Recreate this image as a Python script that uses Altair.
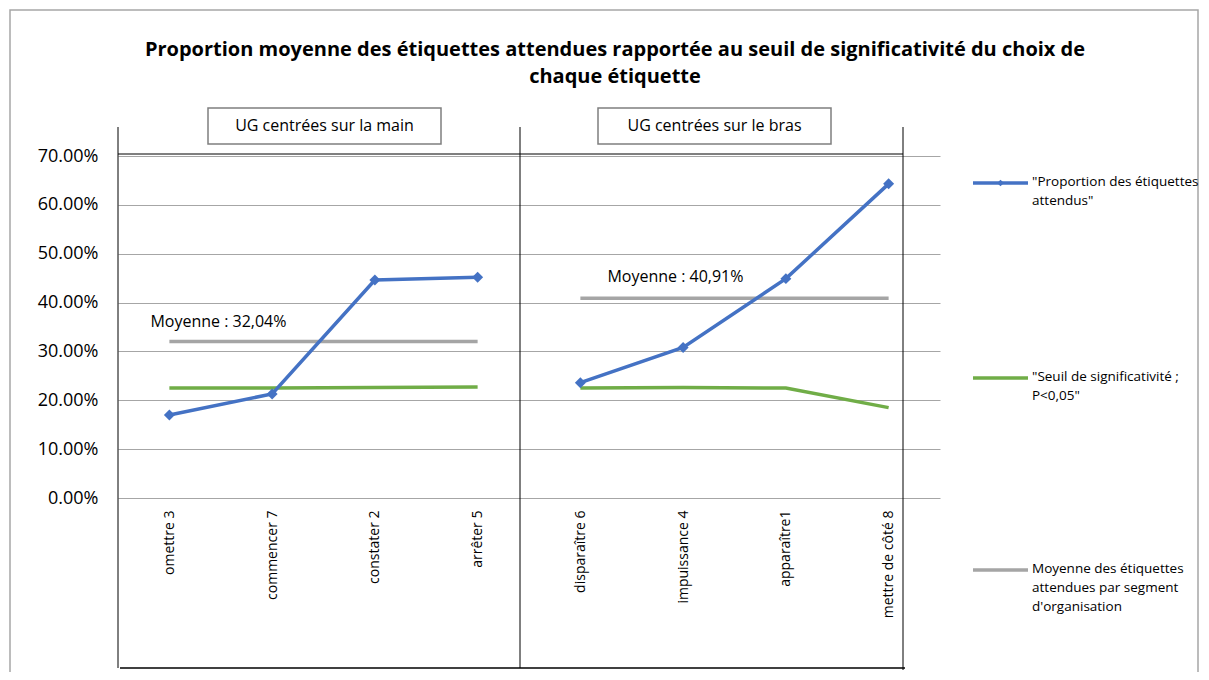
import altair as alt
import pandas as pd

# ---------------- data ----------------
categories = ["omettre 3", "commencer 7", "constater 2", "arrêter 5",
              "disparaître 6", "impuissance 4", "apparaître1", "mettre de côté 8"]
groups = ["main", "main", "main", "main", "bras", "bras", "bras", "bras"]
proportion_pct = [17.0, 21.3, 44.6, 45.2, 23.6, 30.8, 44.9, 64.3]
seuil_pct = [22.5, 22.5, 22.6, 22.7, 22.5, 22.6, 22.5, 18.5]

mean_groups = ["main", "bras"]
mean_pct = [32.04, 40.91]
mean_start = ["omettre 3", "disparaître 6"]
mean_end = ["arrêter 5", "mettre de côté 8"]
mean_labels = ["Moyenne : 32,04%", "Moyenne : 40,91%"]

y_ticks = [0.0, 0.1, 0.2, 0.3, 0.4, 0.5, 0.6, 0.7]
panel_titles = ["UG centrées sur la main", "UG centrées sur le bras"]
title_lines = ["Proportion moyenne des étiquettes attendues rapportée au seuil de significativité du choix de",
               "chaque étiquette"]
legend_labels = [
    ['"Proportion des étiquettes', 'attendus"'],
    ['"Seuil de significativité ;', 'P<0,05"'],
    ["Moyenne des étiquettes", "attendues par segment", "d'organisation"],
]

BLUE = "#4472C4"
GREEN = "#70AD47"
GRAY = "#A5A5A5"
FONT = "Open Sans"

df = pd.DataFrame({
    "cat": categories,
    "group": groups,
    "prop": [v / 100 for v in proportion_pct],
    "seuil": [v / 100 for v in seuil_pct],
})
mdf = pd.DataFrame({
    "group": mean_groups,
    "mean": [v / 100 for v in mean_pct],
    "start": mean_start,
    "end": mean_end,
    "label": mean_labels,
})

W, H = 822, 342
xscale = alt.Scale(type="point", domain=categories, padding=0.5)
yscale = alt.Scale(domain=[0, 0.7], nice=False, zero=True)

x_axis = alt.Axis(title=None, labelAngle=270, labelFontSize=14, labelFont=FONT,
                  labelColor="#000000", labelPadding=12, domain=False, ticks=False,
                  grid=False, labelLimit=300)
y_axis = alt.Axis(title=None, values=y_ticks, format=".2%", labelFontSize=18,
                  labelFont=FONT, labelColor="#000000", labelPadding=20,
                  domain=False, ticks=False, grid=True, gridColor="#A6A6A6",
                  gridWidth=1)

one = pd.DataFrame({"k": [0]})


def hrule(x1, x2, y, color="#000000", w=1.0):
    return alt.Chart(one).mark_rule(color=color, strokeWidth=w).encode(
        x=alt.value(x1), x2=alt.value(x2), y=alt.value(y))


def vrule(x, y1, y2, color="#000000", w=1.0):
    return alt.Chart(one).mark_rule(color=color, strokeWidth=w).encode(
        x=alt.value(x), y=alt.value(y1), y2=alt.value(y2))


def text_at(txt, x, y, size, align="center", baseline="middle", bold=False, lh=None):
    kw = dict(align=align, baseline=baseline, fontSize=size, font=FONT,
              color="#000000", fontWeight="bold" if bold else "normal")
    if lh is not None:
        kw["lineHeight"] = lh
    return alt.Chart(one).mark_text(**kw).encode(
        x=alt.value(x), y=alt.value(y), text=alt.value(txt))


def box(x1, x2, y1, y2, stroke="#7F7F7F", w=1.5, fill="#FFFFFF"):
    return alt.Chart(one).mark_rect(fill=fill, stroke=stroke, strokeWidth=w).encode(
        x=alt.value(x1), x2=alt.value(x2), y=alt.value(y1), y2=alt.value(y2))


# ---------------- decorations ----------------
border = box(-108, 1080, -146, 560, stroke="#A6A6A6", w=1.5, fill="transparent")
title = text_at(title_lines, 497, -106, 20, bold=True, lh=27)

panel1 = box(90, 323, -48, -12)
panel1_t = text_at(panel_titles[0], 206.5, -30, 16)
panel2 = box(480, 713, -48, -12)
panel2_t = text_at(panel_titles[1], 596.5, -30, 16)

v_left = vrule(0, -29, 512)
v_mid = vrule(402, -29, 512)
v_right = vrule(785, -29, 514)
h_top = hrule(0, 785, -2)
h_bot = hrule(2, 787, 512, w=1.5)

# ---------------- data layers ----------------
base = alt.Chart(df).encode(
    x=alt.X("cat:N", scale=xscale, axis=x_axis, sort=categories),
)

green = base.mark_line(color=GREEN, strokeWidth=3.5).encode(
    y=alt.Y("seuil:Q", scale=yscale, axis=y_axis), detail="group:N")
blue = base.mark_line(color=BLUE, strokeWidth=3.5).encode(
    y=alt.Y("prop:Q", scale=yscale, axis=y_axis), detail="group:N")
blue_pts = base.mark_point(shape="diamond", filled=True, color=BLUE, size=120,
                           opacity=1).encode(
    y=alt.Y("prop:Q", scale=yscale, axis=y_axis))

mean_rule = alt.Chart(mdf).mark_rule(color=GRAY, strokeWidth=3.5).encode(
    x=alt.X("start:N", scale=xscale, axis=x_axis),
    x2="end:N",
    y=alt.Y("mean:Q", scale=yscale, axis=y_axis),
)
mean_t1 = alt.Chart(mdf.iloc[[0]]).mark_text(
    align="left", baseline="middle", fontSize=16, font=FONT, color="#000000",
    dx=-19, dy=-19).encode(
    x=alt.X("start:N", scale=xscale, axis=x_axis),
    y=alt.Y("mean:Q", scale=yscale, axis=y_axis), text="label:N")
mean_t2 = alt.Chart(mdf.iloc[[1]]).mark_text(
    align="left", baseline="middle", fontSize=16, font=FONT, color="#000000",
    dx=27, dy=-21).encode(
    x=alt.X("start:N", scale=xscale, axis=x_axis),
    y=alt.Y("mean:Q", scale=yscale, axis=y_axis), text="label:N")

# ---------------- legend ----------------
LX1, LX2, LTX = 855, 910, 914
LY = [27, 222, 414]
LFS = 13.5
LLH = 19
leg = []
leg.append(hrule(LX1, LX2, LY[0], color=BLUE, w=3.5))
leg.append(alt.Chart(one).mark_point(shape="diamond", filled=True, color=BLUE,
                                     size=45, opacity=1).encode(
    x=alt.value((LX1 + LX2) / 2), y=alt.value(LY[0])))
leg.append(hrule(LX1, LX2, LY[1], color=GREEN, w=3.5))
leg.append(hrule(LX1, LX2, LY[2], color=GRAY, w=3.5))
for lbl, ly in zip(legend_labels, LY):
    leg.append(text_at(lbl, LTX, ly - LLH / 2 + 1, LFS, align="left", baseline="top", lh=LLH))

chart = alt.layer(
    border, title, v_left, v_mid, v_right, h_top, h_bot,
    panel1, panel1_t, panel2, panel2_t,
    mean_rule, green, blue, blue_pts, mean_t1, mean_t2,
    *leg,
).properties(
    width=W, height=H,
    autosize=alt.AutoSizeParams(type="none"),
    padding={"left": 110, "top": 148, "right": 261, "bottom": 174},
).configure(font=FONT).configure_view(stroke="transparent")

chart.save("out.html", embed_options={"renderer": "svg", "actions": False})
